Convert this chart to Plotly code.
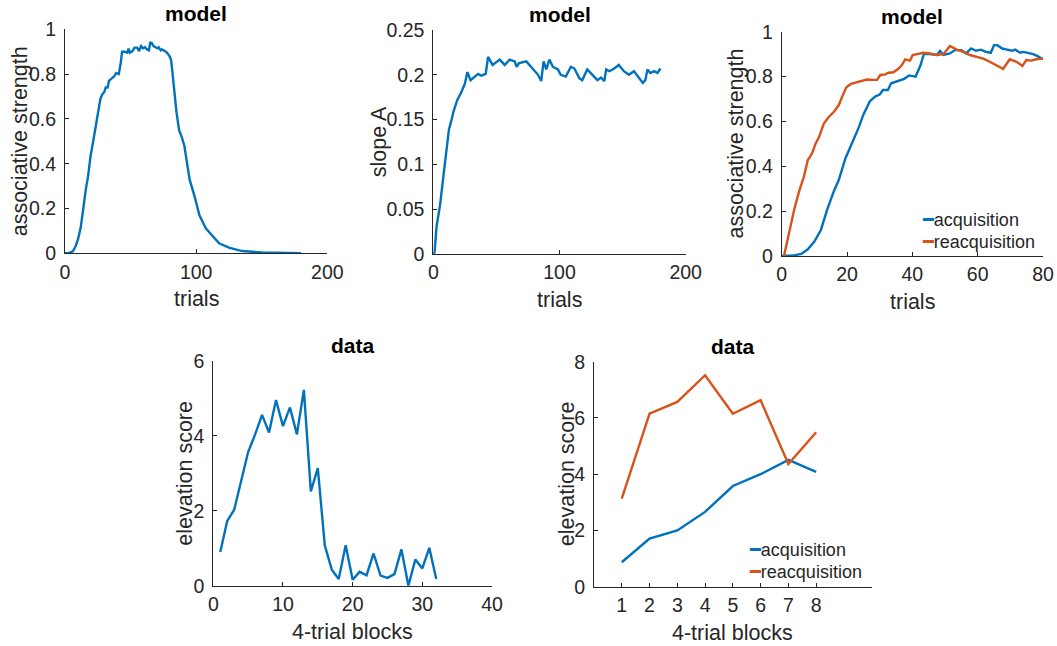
import plotly.graph_objects as go

BLUE = "#0072BD"
ORANGE = "#D95319"
INK = "#262626"
FONT = "Liberation Sans, Arial, Helvetica, sans-serif"

# ---- model: acquisition (trials 0-80) ----
acq_trials = [0, 1, 2, 3, 4, 6, 8, 10, 12, 14, 16, 17.5, 19.5, 21.5, 23.5, 25, 27, 28.5,
              30, 31, 32.5, 33.5, 35.5, 37.5, 39, 41, 42.5, 43.5, 45.5, 47.5, 48.5, 49.5,
              51.5, 53, 55, 56.5, 58, 59.5, 61, 62.5, 64, 65, 66, 67.5, 69, 70.5, 71.5,
              73, 74, 75.5, 77, 78.5, 80]
acq_strength = [0.0, 0.0, 0.0, 0.002, 0.004, 0.009, 0.03, 0.064, 0.116, 0.21, 0.29, 0.34,
                0.435, 0.50, 0.57, 0.63, 0.69, 0.71, 0.72, 0.74, 0.74, 0.77, 0.78, 0.79,
                0.805, 0.80, 0.85, 0.90, 0.90, 0.896, 0.914, 0.896, 0.903, 0.918, 0.918,
                0.903, 0.925, 0.915, 0.92, 0.91, 0.906, 0.94, 0.94, 0.925, 0.92, 0.915,
                0.92, 0.906, 0.91, 0.906, 0.90, 0.89, 0.877]

# ---- model: extinction (trials 80-180) ----
ext_trials = [81, 82.5, 85, 87, 89, 91, 94, 95, 99, 102.5, 107.5, 112.5, 117.5, 125, 135,
              150, 160, 180]
ext_strength = [0.86, 0.77, 0.63, 0.55, 0.52, 0.48, 0.38, 0.33, 0.25, 0.17, 0.11, 0.075,
                0.045, 0.025, 0.01, 0.004, 0.002, 0.0]

# ---- model: slope A ----
slope_trials = [0, 1, 2.6, 5.3, 8, 10.5, 12.4, 14.5, 16, 19, 22, 25, 27, 29.5, 33, 35.5, 38,
                41.5, 43.4, 47, 52.6, 56.6, 60.5, 64.5, 66, 68, 73.7, 79, 83, 85.5, 87.4,
                89.5, 92, 94.7, 98.7, 101, 105, 109, 111.8, 115.8, 118, 122, 126, 130,
                132.9, 135.5, 137, 139.5, 143.4, 147, 151, 155, 159, 163, 166, 168, 169.7,
                172, 175, 177.6, 180]
slope_A = [0.0, 0.002, 0.031, 0.054, 0.087, 0.113, 0.139, 0.15, 0.159, 0.172, 0.18, 0.19,
           0.203, 0.194, 0.198, 0.201, 0.199, 0.201, 0.22, 0.211, 0.217, 0.211, 0.217,
           0.215, 0.209, 0.213, 0.215, 0.207, 0.20, 0.193, 0.215, 0.206, 0.217, 0.209,
           0.206, 0.20, 0.198, 0.209, 0.207, 0.196, 0.194, 0.206, 0.20, 0.194, 0.197,
           0.193, 0.206, 0.204, 0.207, 0.211, 0.204, 0.20, 0.204, 0.196, 0.191, 0.194,
           0.206, 0.202, 0.204, 0.202, 0.207]

# ---- model: reacquisition ----
reacq_trials = [0.7, 2.2, 3.8, 5.3, 6.8, 8, 9.3, 10.4, 11.4, 12.9, 14.4, 16, 17.5, 18.5,
                19.8, 21.2, 22.6, 24.1, 26.1, 28.2, 29.2, 30.2, 31.7, 32.7, 34.2, 35.8,
                36.8, 37.8, 39.3, 40.1, 41.4, 43.4, 45.4, 47.5, 49.5, 51.5, 53.6, 55.6,
                57.6, 59.7, 61.7, 63.7, 65.8, 67.8, 69.8, 71.9, 73.7, 74.9, 76.4, 77.9, 80]
reacq_strength = [0.0, 0.10, 0.205, 0.287, 0.354, 0.428, 0.458, 0.502, 0.529, 0.59, 0.62,
                  0.643, 0.673, 0.71, 0.752, 0.767, 0.773, 0.777, 0.787, 0.785, 0.785, 0.807,
                  0.81, 0.817, 0.819, 0.836, 0.851, 0.877, 0.871, 0.896, 0.90, 0.906, 0.903,
                  0.896, 0.90, 0.936, 0.92, 0.91, 0.896, 0.886, 0.88, 0.866, 0.851, 0.834,
                  0.877, 0.866, 0.847, 0.874, 0.871, 0.877, 0.88]

# ---- data: elevation score over 32 blocks ----
blocks32 = list(range(1, 33))
elevation32 = [0.90, 1.73, 2.03, 2.76, 3.57, 4.04, 4.56, 4.09, 4.96, 4.26, 4.76, 4.04, 5.23,
               2.52, 3.14, 1.08, 0.43, 0.18, 1.08, 0.16, 0.37, 0.28, 0.86, 0.27, 0.21, 0.31,
               0.97, 0.0, 0.70, 0.46, 1.01, 0.18]

# ---- data: acquisition vs reacquisition ----
blocks8 = [1, 2, 3, 4, 5, 6, 7, 8]
data_acq = [0.87, 1.71, 2.00, 2.66, 3.58, 4.00, 4.51, 4.08]
data_reacq = [3.13, 6.15, 6.57, 7.52, 6.15, 6.63, 4.36, 5.49]

legend_labels = ["acquisition", "reacquisition"]

fig = go.Figure()
line = dict(width=2.4)

fig.add_trace(go.Scatter(x=acq_trials + ext_trials, y=acq_strength + ext_strength,
                         mode="lines", line=dict(color=BLUE, **line),
                         xaxis="x", yaxis="y"))
fig.add_trace(go.Scatter(x=slope_trials, y=slope_A, mode="lines",
                         line=dict(color=BLUE, **line), xaxis="x2", yaxis="y2"))
fig.add_trace(go.Scatter(x=acq_trials, y=acq_strength, mode="lines", name=legend_labels[0],
                         line=dict(color=BLUE, **line), xaxis="x3", yaxis="y3"))
fig.add_trace(go.Scatter(x=reacq_trials, y=reacq_strength, mode="lines",
                         name=legend_labels[1], line=dict(color=ORANGE, **line),
                         xaxis="x3", yaxis="y3"))
fig.add_trace(go.Scatter(x=blocks32, y=elevation32, mode="lines",
                         line=dict(color=BLUE, **line), xaxis="x4", yaxis="y4"))
fig.add_trace(go.Scatter(x=blocks8, y=data_acq, mode="lines", name=legend_labels[0],
                         line=dict(color=BLUE, **line), xaxis="x5", yaxis="y5"))
fig.add_trace(go.Scatter(x=blocks8, y=data_reacq, mode="lines", name=legend_labels[1],
                         line=dict(color=ORANGE, **line), xaxis="x5", yaxis="y5"))

W, H = 1057, 646
TICK = 19.5
LAB = 21.5


def px_x(a, b):
    return [a / W, b / W]


def px_y(top, bottom):
    return [1 - bottom / H, 1 - top / H]


def ax(domain, rng, tickvals, anchor, **kw):
    d = dict(domain=domain, range=rng, tickvals=tickvals, anchor=anchor,
             automargin=False,
             showline=True, linecolor=INK, linewidth=1, showgrid=False, zeroline=False,
             ticks="inside", ticklen=4, tickcolor=INK, tickwidth=1,
             tickfont=dict(family=FONT, size=TICK, color=INK))
    d.update(kw)
    return d


panels = [
    # xdom, ydom, xrange, xticks, xtitle, yrange, yticks, ytitle, ytitle shift
    (px_x(65, 327.3), px_y(29.3, 253.3), [0, 200], [0, 100, 200], "trials",
     [0, 1], [0, 0.2, 0.4, 0.6, 0.8, 1], "associative strength", -45),
    (px_x(433.3, 685.7), px_y(30, 254), [0, 200], [0, 100, 200], "trials",
     [0, 0.25], [0, 0.05, 0.1, 0.15, 0.2, 0.25], "slope A", -54),
    (px_x(781.7, 1043), px_y(31.7, 256), [0, 80], [0, 20, 40, 60, 80], "trials",
     [0, 1], [0, 0.2, 0.4, 0.6, 0.8, 1], "associative strength", -46),
    (px_x(213.3, 492), px_y(361, 585.7), [0, 40], [0, 10, 20, 30, 40], "4-trial blocks",
     [0, 6], [0, 2, 4, 6], "elevation score", -28),
    (px_x(594, 871.7), px_y(361.7, 586.7), [0, 10], blocks8, "4-trial blocks",
     [0, 8], [0, 2, 4, 6, 8], "elevation score", -27),
]

layout = dict(template="none", width=W, height=H, margin=dict(l=0, r=0, t=0, b=0, pad=0),
              paper_bgcolor="white", plot_bgcolor="white", showlegend=False,
              font=dict(family=FONT, color=INK))
annotations = []
titles = ["model", "model", "model", "data", "data"]
for i, (xd, yd, xr, xt, xtt, yr, yt, ytt, ysh) in enumerate(panels, start=1):
    sfx = "" if i == 1 else str(i)
    layout["xaxis" + sfx] = ax(xd, xr, xt, "y" + sfx, ticklabelstandoff=1)
    layout["yaxis" + sfx] = ax(yd, yr, yt, "x" + sfx, ticklabelstandoff=4)
    xref = "x" + sfx + " domain"
    yref = "y" + sfx + " domain"
    annotations.append(dict(text="<b>" + titles[i - 1] + "</b>", xref=xref, yref=yref,
                            x=0.5, y=1, xanchor="center", yanchor="bottom",
                            showarrow=False, yshift=2,
                            font=dict(family=FONT, size=21, color="black")))
    annotations.append(dict(text=xtt, xref=xref, yref=yref, x=0.5, y=0,
                            xanchor="center", yanchor="middle", showarrow=False,
                            yshift=-46, font=dict(family=FONT, size=LAB, color=INK)))
    annotations.append(dict(text=ytt, xref=xref, yref=yref, x=0, y=0.5, textangle=-90,
                            xanchor="center", yanchor="middle", showarrow=False,
                            xshift=ysh, font=dict(family=FONT, size=LAB, color=INK)))

# legends (line key + label) for the two comparison panels
legend_specs = [  # xref, yref, key left (px from axis left), row centres (px above axis bottom)
    ("x3 domain", "y3 domain", 139, [37, 15]),
    ("x5 domain", "y5 domain", 154, [37, 15]),
]
for xref, yref, kx, rows in legend_specs:
    for lab, col, dy in zip(legend_labels, [BLUE, ORANGE], rows):
        annotations.append(dict(
            text='<span style="color:%s;font-family:DejaVu Sans">\u2501</span>%s' % (col, lab),
            xref=xref, yref=yref, x=0, y=0, xanchor="left", yanchor="middle",
            xshift=kx, yshift=dy, showarrow=False, borderpad=0,
            font=dict(family=FONT, size=18, color=INK)))
layout["annotations"] = annotations

fig.update_layout(**layout)
fig.write_html("out.html")
